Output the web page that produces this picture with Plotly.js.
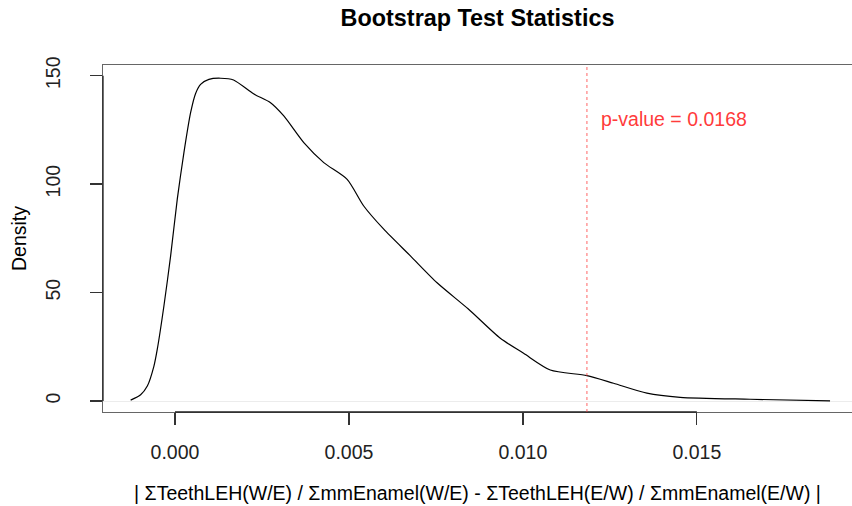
<!DOCTYPE html>
<html>
<head>
<meta charset="utf-8">
<script src="https://cdn.plot.ly/plotly-3.0.1.min.js"></script>
<style>html,body{margin:0;padding:0;background:#fff;overflow:hidden}</style>
</head>
<body>
<div id="chart" style="width:852px;height:506px"></div>
<script>
// Density estimate of bootstrap test statistics
const statValues = [-0.001275, -0.000988, -0.000796, -0.000606, -0.000508, -0.000319, -0.000126, 0.000066, 0.000256, 0.000448, 0.000592, 0.000735, 0.000974, 0.001310, 0.001683, 0.002257, 0.002746, 0.003127, 0.003702, 0.004276, 0.004948, 0.005425, 0.006000, 0.006766, 0.007533, 0.008432, 0.009351, 0.010020, 0.010787, 0.011841, 0.012605, 0.013564, 0.014520, 0.016531, 0.018829];
const densityValues = [0.4, 2.9, 6.9, 16.1, 24.0, 43.8, 66.9, 93.2, 114.5, 132.9, 141.8, 146.0, 148.3, 148.8, 148.0, 141.6, 137.5, 131.4, 119.1, 109.9, 102.2, 89.9, 79.2, 66.9, 54.5, 42.4, 28.9, 22.0, 14.3, 11.7, 8.2, 3.6, 1.7, 0.8, 0.1];
const observedStat = 0.01184;
const pValueLabel = "p-value = 0.0168";
const pLabelPos = [0.0122, 130];
const xTickVals = [0, 0.005, 0.010, 0.015];
const xTickText = ["0.000", "0.005", "0.010", "0.015"];
const yTickVals = [0, 50, 100, 150];
const yTickText = ["0", "50", "100", "150"];

const FONT = "Liberation Sans, Arial, Helvetica, sans-serif";

const trace = {
  x: statValues, y: densityValues, type: "scatter", mode: "lines",
  line: {color: "#000", width: 1.2, shape: "spline", smoothing: 0.7},
  hoverinfo: "skip", showlegend: false
};

const layout = {
  width: 852, height: 506,
  margin: {l: 103, r: 0, t: 65, b: 94, pad: 0},
  paper_bgcolor: "#fff", plot_bgcolor: "#fff",
  font: {family: FONT, size: 19.5, color: "#000"},
  title: {text: "<b>Bootstrap Test Statistics</b>", font: {family: FONT, size: 23.4, color: "#000"},
          x: 0.5, xref: "paper", xanchor: "center", y: 1 - 18/506, yref: "container", yanchor: "middle"},
  xaxis: {
    range: [-0.00207, 0.01946], autorange: false,
    tickvals: xTickVals, ticktext: xTickText, ticks: "outside", ticklen: 12, tickwidth: 1.2, tickcolor: "#333",
    ticklabelstandoff: 10,
    showgrid: false, zeroline: false,
    showline: true, mirror: true, linecolor: "#666", linewidth: 1.2,
    tickfont: {size: 19.5, color: "#222"},
    title: {text: "| \u03A3TeethLEH(W/E) / \u03A3mmEnamel(W/E) - \u03A3TeethLEH(E/W) / \u03A3mmEnamel(E/W) |",
            font: {size: 19.5, color: "#000"}, standoff: 24}
  },
  yaxis: {
    range: [-5.07, 154.9], autorange: false,
    tickvals: yTickVals, ticktext: yTickText, ticks: "outside", ticklen: 12, tickwidth: 1.2, tickcolor: "#333",
    tickangle: -90, ticklabelstandoff: 22,
    showgrid: false, zeroline: true, zerolinecolor: "#ececec", zerolinewidth: 1,
    showline: true, linecolor: "#666", linewidth: 1.2,
    tickfont: {size: 19.5, color: "#222"},
    title: {text: "Density", font: {size: 19.5, color: "#000"}, standoff: 10}
  },
  shapes: [
    {type: "line", xref: "x", yref: "paper", x0: xTickVals[0], x1: xTickVals[xTickVals.length-1], y0: 0, y1: 0,
     line: {color: "#222", width: 1.3}},
    {type: "line", xref: "paper", yref: "y", x0: 0, x1: 0, y0: yTickVals[0], y1: yTickVals[yTickVals.length-1],
     line: {color: "#222", width: 1.3}},
    {type: "line", xref: "x", yref: "paper", x0: observedStat, x1: observedStat, y0: 0, y1: 1,
     line: {color: "rgba(255,60,60,0.6)", width: 1.3, dash: "dot"}}
  ],
  annotations: [
    {x: pLabelPos[0], y: pLabelPos[1], xref: "x", yref: "y", text: pValueLabel, showarrow: false,
     xanchor: "left", yanchor: "middle", font: {size: 19.5, color: "#ff3b3b"}}
  ]
};

Plotly.newPlot("chart", [trace], layout, {displayModeBar: false, staticPlot: true});
</script>
</body>
</html>
